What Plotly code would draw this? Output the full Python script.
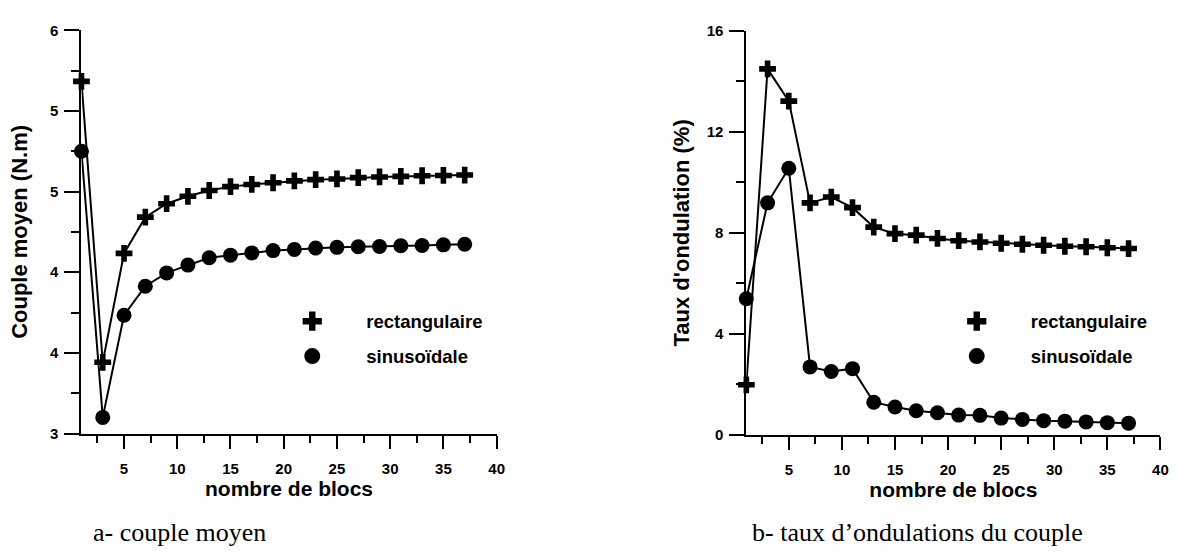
import plotly.graph_objects as go

# ---------------- data ----------------
blocs = [1, 3, 5, 7, 9, 11, 13, 15, 17, 19, 21, 23, 25, 27, 29, 31, 33, 35, 37]

couple_rect = [5.62, 3.53, 4.34, 4.61, 4.71, 4.765, 4.808, 4.837, 4.853, 4.866, 4.880,
               4.889, 4.894, 4.904, 4.909, 4.913, 4.918, 4.920, 4.923]
couple_sin = [5.10, 3.12, 3.88, 4.096, 4.195, 4.253, 4.308, 4.327, 4.344, 4.361, 4.370,
              4.380, 4.385, 4.390, 4.392, 4.397, 4.399, 4.404, 4.408]

ond_rect = [1.98, 14.50, 13.22, 9.19, 9.42, 9.00, 8.23, 7.97, 7.91, 7.78, 7.69,
            7.64, 7.59, 7.55, 7.51, 7.47, 7.45, 7.41, 7.38]
ond_sin = [5.39, 9.19, 10.56, 2.69, 2.51, 2.62, 1.29, 1.10, 0.95, 0.87, 0.78,
           0.77, 0.66, 0.61, 0.56, 0.54, 0.51, 0.48, 0.46]

x_ticks = [5, 10, 15, 20, 25, 30, 35, 40]
left_yticks = [3, 3.6, 4.2, 4.8, 5.4, 6]
left_yticklabels = ["3", "4", "4", "5", "5", "6"]
right_yticks = [0, 4, 8, 12, 16]
right_yticklabels = ["0", "4", "8", "12", "16"]

names = ["rectangulaire", "sinusoïdale"]
x_title = "nombre de blocs"
left_ytitle = "Couple moyen (N.m)"
right_ytitle = "Taux d'ondulation (%)"
captions = ["a- couple moyen", "b- taux d\u2019ondulations du couple"]

# ---------------- figure ----------------
W, H = 1186, 552
FONT = "Arial, 'Liberation Sans', sans-serif"
SERIF = "'Times New Roman', 'Liberation Serif', serif"

fig = go.Figure()

def add_series(xa, ya, y, symbol, size, name, legend):
    fig.add_trace(go.Scatter(x=blocs, y=y, mode="lines", xaxis=xa, yaxis=ya,
                             line=dict(color="black", width=2), showlegend=False,
                             cliponaxis=False, hoverinfo="skip"))
    fig.add_trace(go.Scatter(x=blocs, y=y, mode="markers", xaxis=xa, yaxis=ya,
                             marker=dict(symbol=symbol, size=size, color="black",
                                         line=dict(width=0)),
                             showlegend=False, cliponaxis=False, name=name))
    # legend-only entry (no points drawn)
    fig.add_trace(go.Scatter(x=[None], y=[None], mode="markers", xaxis=xa, yaxis=ya,
                             marker=dict(symbol=symbol, size=22, color="black",
                                         line=dict(width=0)),
                             name=name, legend=legend, showlegend=True))

add_series("x", "y", couple_rect, "cross", 14, names[0], "legend")
add_series("x", "y", couple_sin, "circle", 15, names[1], "legend2")
add_series("x2", "y2", ond_rect, "cross", 14, names[0], "legend3")
add_series("x2", "y2", ond_sin, "circle", 15, names[1], "legend4")

TICKFONT = dict(family=FONT, size=15, color="black", weight="bold")
axis_common = dict(showgrid=False, zeroline=False, showline=True, linecolor="black",
                   linewidth=2, ticks="outside", tickwidth=2, tickcolor="black",
                   tickfont=TICKFONT)

xcommon = dict(axis_common, range=[1, 40], tickmode="array", tickvals=x_ticks,
               ticklen=13, ticklabelstandoff=7,
               minor=dict(ticks="outside", dtick=2.5, tick0=0, ticklen=7,
                          tickwidth=2, tickcolor="black", showgrid=False),
               title=dict(text=x_title, standoff=6,
                          font=dict(family=FONT, size=21, color="black", weight="bold")))

def legend_box(px, py):
    return dict(x=px / W, y=1 - py / H, xanchor="left", yanchor="top",
                bgcolor="rgba(0,0,0,0)", itemwidth=98, borderwidth=0,
                font=dict(family=FONT, size=18.5, color="black", weight="bold"))

fig.update_layout(
    width=W, height=H, autosize=False,
    margin=dict(l=0, r=0, t=0, b=0),
    paper_bgcolor="white", plot_bgcolor="white",
    xaxis=dict(xcommon, domain=[82 / W, 500 / W], anchor="y"),
    xaxis2=dict(xcommon, domain=[751.4 / W, 1168.3 / W], anchor="y2"),
    yaxis=dict(axis_common, domain=[1 - 438 / H, 1 - 22 / H], anchor="x",
               range=[3, 6], tickmode="array", tickvals=left_yticks,
               ticktext=left_yticklabels, ticklen=15, ticklabelstandoff=3,
               minor=dict(ticks="outside", dtick=0.3, tick0=3, ticklen=8,
                          tickwidth=2, tickcolor="black", showgrid=False),
               title=dict(text=left_ytitle, standoff=16,
                          font=dict(family=FONT, size=22, color="black", weight="bold"))),
    yaxis2=dict(axis_common, domain=[1 - 439.3 / H, 1 - 22.7 / H], anchor="x2",
                range=[0, 16], tickmode="array", tickvals=right_yticks,
                ticktext=right_yticklabels, ticklen=15, ticklabelstandoff=3,
                minor=dict(ticks="outside", dtick=2, tick0=0, ticklen=8,
                           tickwidth=2, tickcolor="black", showgrid=False),
                title=dict(text=right_ytitle, standoff=11,
                           font=dict(family=FONT, size=22, color="black", weight="bold"))),
    legend=legend_box(260, 303),
    legend2=legend_box(260, 339),
    legend3=legend_box(929, 303),
    legend4=legend_box(929, 339),
    showlegend=True,
)

fig.add_annotation(text=captions[0], xref="paper", yref="paper", x=92 / W, y=1 - 540 / H,
                   xanchor="left", yanchor="middle", showarrow=False,
                   font=dict(family=SERIF, size=26, color="black"))
fig.add_annotation(text=captions[1], xref="paper", yref="paper", x=755 / W, y=1 - 540 / H,
                   xanchor="left", yanchor="middle", showarrow=False,
                   font=dict(family=SERIF, size=26, color="black"))

fig.write_html("out.html")
